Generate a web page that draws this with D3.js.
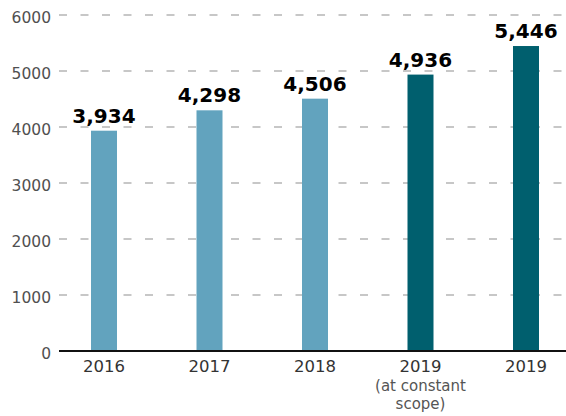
<!DOCTYPE html>
<html><head><meta charset="utf-8">
<script src="https://cdn.jsdelivr.net/npm/d3@7"></script>
<style>body{margin:0;background:#fff}svg{display:block}</style>
</head><body>
<svg id="c" width="566" height="416"></svg>
<script>
const categories = ["2016", "2017", "2018", "2019a", "2019b"];
const categoryLabels = [["2016"], ["2017"], ["2018"], ["2019", "(at constant", "scope)"], ["2019"]];
const values = [3934, 4298, 4506, 4936, 5446];
const valueLabels = ["3,934", "4,298", "4,506", "4,936", "5,446"];
const barGroup = ["past", "past", "past", "current", "current"];
const yTicks = [0, 1000, 2000, 3000, 4000, 5000, 6000];

const colors = {past: "#62a3be", current: "#005f6e"};
const svg = d3.select("#c");
const font = "'DejaVu Sans', sans-serif";

const y = d3.scaleLinear().domain([0, 6000]).range([351, 15]);
const x = d3.scalePoint().domain(categories).range([104, 526]);
const barW = 26;

// gridlines
svg.append("g").selectAll("line").data(yTicks.filter(d => d > 0)).join("line")
  .attr("x1", 59).attr("x2", 566)
  .attr("y1", d => y(d)).attr("y2", d => y(d))
  .attr("stroke", "#8f8f8f").attr("stroke-width", 1.2)
  .attr("stroke-dasharray", "8,13.5");

// y tick labels
svg.append("g").selectAll("text").data(yTicks).join("text")
  .attr("x", 51).attr("y", d => y(d) + 7.5)
  .attr("text-anchor", "end")
  .attr("font-family", font).attr("font-size", 15.5)
  .attr("fill", "#505050")
  .text(d => d);

// bars
svg.append("g").selectAll("rect").data(values).join("rect")
  .attr("x", (d, i) => x(categories[i]) - barW / 2)
  .attr("width", barW)
  .attr("y", d => y(d))
  .attr("height", d => y(0) - y(d))
  .attr("fill", (d, i) => colors[barGroup[i]]);

// axis line
svg.append("line").attr("x1", 59).attr("x2", 566)
  .attr("y1", y(0)).attr("y2", y(0))
  .attr("stroke", "#111").attr("stroke-width", 2);

// value labels
svg.append("g").selectAll("text").data(values).join("text")
  .attr("x", (d, i) => x(categories[i]))
  .attr("y", d => y(d) - 8)
  .attr("text-anchor", "middle")
  .attr("font-family", font).attr("font-weight", "bold").attr("font-size", 20)
  .attr("fill", "#000")
  .text((d, i) => valueLabels[i]);

// x labels
const xl = svg.append("g").selectAll("text").data(categories).join("text")
  .attr("x", d => x(d))
  .attr("y", 372)
  .attr("text-anchor", "middle")
  .attr("font-family", font);
xl.each(function(d, i) {
  const t = d3.select(this);
  categoryLabels[i].forEach((line, j) => {
    t.append("tspan").attr("x", x(d)).attr("y", j === 0 ? 372 : 372 + 18.5 * j)
      .attr("font-size", j === 0 ? 16.5 : 15)
      .attr("fill", j === 0 ? "#333" : "#555")
      .text(line);
  });
});
</script>
</body></html>
